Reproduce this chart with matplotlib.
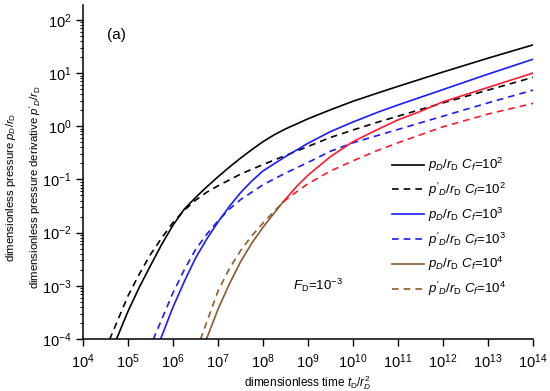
import matplotlib
matplotlib.use("Agg")
import matplotlib.pyplot as plt
from matplotlib.lines import Line2D

plt.rcParams['font.family'] = ['Liberation Sans', 'DejaVu Sans']
plt.rcParams['mathtext.fontset'] = 'custom'
plt.rcParams['mathtext.rm'] = 'Liberation Sans'
plt.rcParams['mathtext.it'] = 'Liberation Sans:italic'

## Values (log10 of t and of the y value) ##

# C_f = 10^2
cf2_p_logt = [4.74, 5.0, 5.25, 5.5, 5.75, 6.0, 6.25, 6.5, 6.75, 7.0, 7.25, 7.5, 7.75, 8.0, 8.25, 8.5, 9.0, 9.5, 10.0, 10.6, 11.0, 12.0, 13.0, 14.0]
cf2_p_logy = [-4.01, -3.48, -3.03, -2.62, -2.22, -1.86, -1.56, -1.34, -1.14, -0.95, -0.77, -0.60, -0.44, -0.29, -0.16, -0.05, 0.14, 0.31, 0.47, 0.64, 0.75, 1.02, 1.28, 1.53]
cf2_d_logt = [4.59, 5.0, 5.25, 5.5, 5.75, 6.0, 6.25, 6.5, 6.75, 7.0, 7.5, 8.0, 8.5, 9.0, 9.5, 10.0, 10.6, 11.0, 12.0, 13.0, 14.0]
cf2_d_logy = [-4.01, -3.19, -2.78, -2.41, -2.10, -1.81, -1.58, -1.39, -1.24, -1.12, -0.90, -0.72, -0.55, -0.38, -0.21, -0.07, 0.09, 0.19, 0.44, 0.68, 0.92]

# C_f = 10^3
cf3_p_logt = [5.72, 6.0, 6.25, 6.5, 6.75, 7.0, 7.25, 7.5, 7.75, 8.0, 8.5, 9.0, 9.5, 10.0, 10.6, 11.0, 12.0, 13.0, 14.0]
cf3_p_logy = [-4.01, -3.40, -2.92, -2.48, -2.12, -1.80, -1.51, -1.25, -1.03, -0.84, -0.57, -0.32, -0.10, 0.08, 0.28, 0.40, 0.69, 0.98, 1.26]
cf3_d_logt = [5.56, 6.0, 6.25, 6.5, 6.75, 7.0, 7.25, 7.5, 8.0, 8.5, 9.0, 9.5, 10.0, 10.6, 11.0, 12.0, 13.0, 14.0]
cf3_d_logy = [-4.01, -3.13, -2.70, -2.32, -2.03, -1.78, -1.56, -1.38, -1.10, -0.88, -0.68, -0.47, -0.31, -0.16, -0.06, 0.19, 0.44, 0.68]

# C_f = 10^4 (early part drawn brown, late part red)
cf4_p_early_logt = [6.74, 7.0, 7.25, 7.5, 7.75, 8.0, 8.25, 8.45]
cf4_p_early_logy = [-4.01, -3.44, -2.97, -2.55, -2.20, -1.90, -1.63, -1.42]
cf4_p_late_logt = [8.45, 8.75, 9.0, 9.5, 10.0, 10.5, 11.0, 11.5, 12.0, 13.0, 14.0]
cf4_p_late_logy = [-1.42, -1.13, -0.92, -0.57, -0.29, -0.08, 0.12, 0.28, 0.46, 0.73, 1.0]
cf4_d_early_logt = [6.61, 7.0, 7.25, 7.5, 7.75, 8.0, 8.25, 8.45]
cf4_d_early_logy = [-4.01, -3.10, -2.68, -2.34, -2.06, -1.82, -1.60, -1.42]
cf4_d_late_logt = [8.45, 8.75, 9.0, 9.5, 10.0, 10.5, 11.0, 12.0, 13.0, 14.0]
cf4_d_late_logy = [-1.42, -1.23, -1.08, -0.84, -0.65, -0.47, -0.31, -0.01, 0.23, 0.43]

xticks = [4, 5, 6, 7, 8, 9, 10, 11, 12, 13, 14]
yticks = [-4, -3, -2, -1, 0, 1, 2]

BLACK = '#000000'
BLUE = '#1a1aff'
RED = '#ff1a2e'
BROWN = '#8c5a2b'
LW = 1.2
DASH = (0, (4, 3))


def pw(vals):
    return [10 ** v for v in vals]


fig = plt.figure(figsize=(5.5, 3.91), dpi=100)
ax = fig.add_axes([83 / 550, 1 - 339 / 391, 450 / 550, 334 / 391])

ax.plot(pw(cf2_p_logt), pw(cf2_p_logy), color=BLACK, lw=LW)
ax.plot(pw(cf2_d_logt), pw(cf2_d_logy), color=BLACK, lw=LW, linestyle=DASH)
ax.plot(pw(cf3_p_logt), pw(cf3_p_logy), color=BLUE, lw=LW)
ax.plot(pw(cf3_d_logt), pw(cf3_d_logy), color=BLUE, lw=LW, linestyle=DASH)
ax.plot(pw(cf4_p_early_logt), pw(cf4_p_early_logy), color=BROWN, lw=LW)
ax.plot(pw(cf4_p_late_logt), pw(cf4_p_late_logy), color=RED, lw=LW)
ax.plot(pw(cf4_d_early_logt), pw(cf4_d_early_logy), color=BROWN, lw=LW, linestyle=DASH)
ax.plot(pw(cf4_d_late_logt), pw(cf4_d_late_logy), color=RED, lw=LW, linestyle=DASH)

ax.set_xscale('log')
ax.set_yscale('log')
ax.set_xlim(1e4, 1e14)
ax.set_ylim(1e-4, 10 ** 2.28)
ax.set_xticks(pw(xticks))
ax.set_yticks(pw(yticks))
ax.set_xticklabels([f'10$^{{{v}}}$' for v in xticks])
ax.set_yticklabels([f'10$^{{{v}}}$' for v in yticks])
ax.tick_params(which='major', direction='out', length=5, width=1, labelsize=10.5, pad=3)
ax.tick_params(which='minor', direction='out', length=2.5, width=0.8)
ax.tick_params(axis='x', which='major', pad=5)

ax.spines['top'].set_visible(False)
ax.spines['right'].set_visible(False)
ax.spines['left'].set_linewidth(1.1)
ax.spines['bottom'].set_linewidth(1.1)

ax.set_xlabel(r'dimensionless time $t_\mathrm{D}/r_D^2$', fontsize=8.5)
ax.xaxis.set_label_coords(0.5, -0.104)
ax.set_ylabel('dimensionless pressure $p_D/r_\\mathrm{D}$\n'
              "dimensionless pressure derivative $p'_D/r_\\mathrm{D}$",
              fontsize=8.2, linespacing=1.75)
ax.yaxis.set_label_coords(-0.089, 0.455)

ax.text(107 / 550, 1 - 35 / 391, '(a)', transform=fig.transFigure, fontsize=11,
        va='center', ha='left')
ax.text(293 / 550, 1 - 285 / 391, r'$F_\mathrm{D}$=10$^{-3}$', transform=fig.transFigure,
        fontsize=9.5, va='center', ha='left')

handles = [
    Line2D([], [], color=BLACK, lw=LW),
    Line2D([], [], color=BLACK, lw=LW, linestyle=DASH),
    Line2D([], [], color=BLUE, lw=LW),
    Line2D([], [], color=BLUE, lw=LW, linestyle=DASH),
    Line2D([], [], color=BROWN, lw=LW),
    Line2D([], [], color=BROWN, lw=LW, linestyle=DASH),
]
labels = [
    r'$p_D/r_\mathrm{D}$ $C_f$=10$^2$',
    r"$p'_D/r_\mathrm{D}$ $C_f$=10$^2$",
    r'$p_D/r_\mathrm{D}$ $C_f$=10$^3$',
    r"$p'_D/r_\mathrm{D}$ $C_f$=10$^3$",
    r'$p_D/r_\mathrm{D}$ $C_f$=10$^4$',
    r"$p'_D/r_\mathrm{D}$ $C_f$=10$^4$",
]
fig.legend(handles, labels, loc='upper left', bbox_to_anchor=(392 / 550, 1 - 156 / 391),
           frameon=False, fontsize=9.5, handlelength=2.4, handletextpad=0.3,
           labelspacing=0.5, borderpad=0, borderaxespad=0)

fig.savefig('out.png', dpi=100)
